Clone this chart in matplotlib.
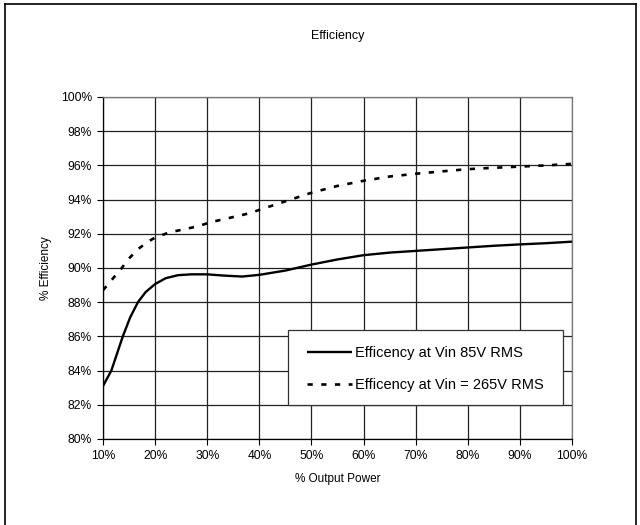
import matplotlib.pyplot as plt
from matplotlib.lines import Line2D
from matplotlib.patches import Rectangle
from matplotlib.ticker import FuncFormatter, MultipleLocator

plt.rcParams['font.family'] = ['Liberation Sans', 'DejaVu Sans']

# Efficiency at Vin 85V RMS
power_85 = [10, 11.6, 13.8, 15.2, 16.7, 18.2, 20, 22, 24.4, 27, 30, 33,
            36.7, 40, 45, 50, 55, 60, 65, 70, 75, 80, 85, 90, 95, 100]
eff_85 = [83.1, 84.0, 86.0, 87.1, 88.0, 88.6, 89.06, 89.4, 89.58, 89.63,
          89.63, 89.56, 89.5, 89.6, 89.85, 90.2, 90.5, 90.75, 90.9, 91.0,
          91.1, 91.2, 91.3, 91.38, 91.45, 91.54]

# Efficiency at Vin = 265V RMS
power_265 = [10, 13.5, 15, 16.7, 18.65, 20, 22.8, 25.7, 28.3, 30.8, 33.4,
             36, 38.5, 40, 45, 50, 55, 60, 65, 70, 75, 80, 85, 90, 95, 100]
eff_265 = [88.7, 89.96, 90.56, 91.1, 91.54, 91.78, 92.09, 92.27, 92.45,
           92.69, 92.87, 93.05, 93.23, 93.4, 93.9, 94.4, 94.8, 95.1, 95.35,
           95.51, 95.65, 95.78, 95.86, 95.93, 96.0, 96.09]

W, H = 640, 525
fig = plt.figure(figsize=(W / 100, H / 100), dpi=100)
ax = fig.add_axes([103 / W, 1 - 439 / H, (572 - 103) / W, (439 - 97) / H])

ax.plot(power_85, eff_85, color='black', lw=1.7, solid_capstyle='butt',
        label='Efficency at Vin 85V RMS')
ax.plot(power_265, eff_265, color='black', lw=1.9, dashes=(2.0, 3.2),
        dash_capstyle='butt', label='Efficency at Vin = 265V RMS')

ax.set_xlim(10, 100)
ax.set_ylim(80, 100)
ax.xaxis.set_major_locator(MultipleLocator(10))
ax.yaxis.set_major_locator(MultipleLocator(2))
ax.xaxis.set_major_formatter(FuncFormatter(lambda v, p: f'{v:.0f}%'))
ax.yaxis.set_major_formatter(FuncFormatter(lambda v, p: f'{v:.0f}%'))
ax.tick_params(direction='out', length=4, width=0.8, labelsize=8.7, pad=4)
ax.grid(True, color='#222222', lw=0.9)
ax.set_axisbelow(True)
for side in ['left', 'bottom']:
    ax.spines[side].set_color('black')
    ax.spines[side].set_linewidth(0.9)
for side in ['top', 'right']:
    ax.spines[side].set_color('#777777')
    ax.spines[side].set_linewidth(0.9)

ax.set_xlabel('% Output Power', fontsize=8.5, labelpad=8)
ax.set_ylabel('% Efficiency', fontsize=8.5, labelpad=6)
fig.text(337.5 / W, 1 - 36 / H, 'Efficiency', fontsize=9,
         ha='center', va='center')

# legend frame drawn separately so the padding can match the original
frame = Rectangle((288 / W, 1 - 405 / H), (563 - 288) / W, (405 - 330) / H,
                  transform=fig.transFigure, facecolor='white',
                  edgecolor='#333333', lw=0.9, zorder=4, clip_on=False)
ax.add_patch(frame)
leg = ax.legend(loc='center left', bbox_to_anchor=(307 / W, 1 - 369 / H),
                bbox_transform=fig.transFigure, fontsize=10.5, frameon=False,
                borderpad=0, borderaxespad=0, labelspacing=1.2,
                handlelength=3.1, handletextpad=0.2)
leg.set_zorder(5)

# outer border of the figure
fig.add_artist(Line2D([5 / W, 5 / W], [0, 1 - 4 / H], color='black', lw=1.2))
fig.add_artist(Line2D([5 / W, 636 / W], [1 - 4 / H, 1 - 4 / H], color='black', lw=1.2))
fig.add_artist(Line2D([636 / W, 636 / W], [0, 1 - 4 / H], color='black', lw=1.2))

fig.savefig('out.png', dpi=100)
